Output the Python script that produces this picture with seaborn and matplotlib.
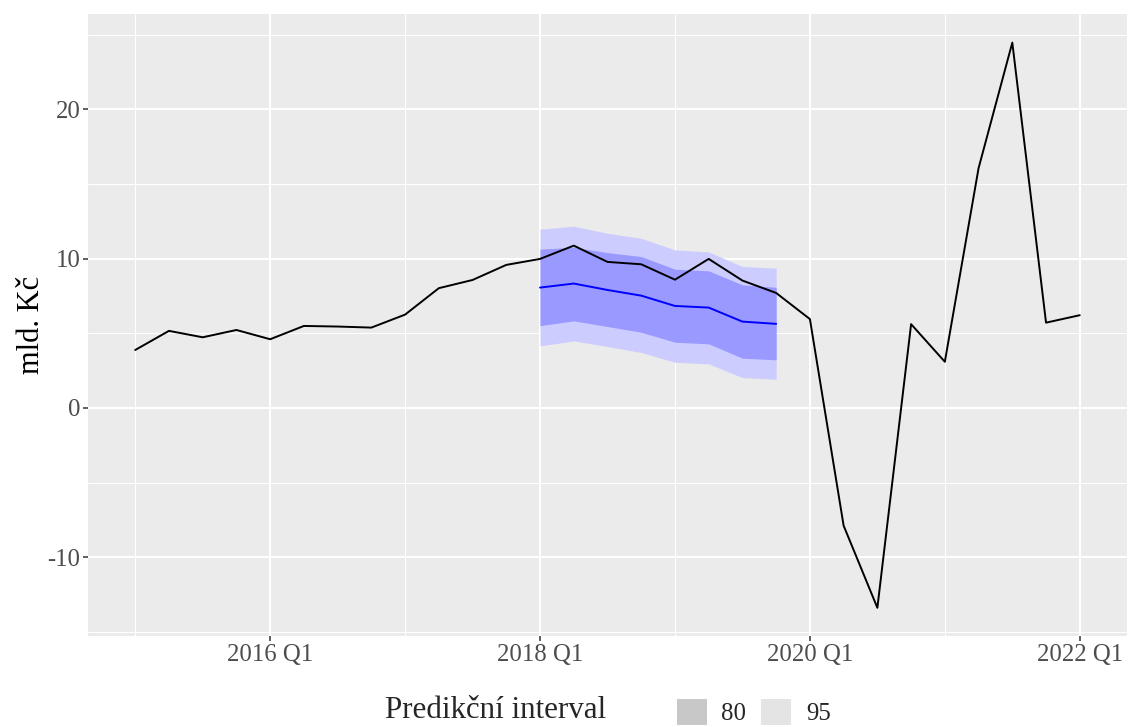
import numpy as np
import pandas as pd
import matplotlib
matplotlib.use("Agg")
import matplotlib.pyplot as plt
import seaborn as sns
from matplotlib.patches import Patch

# ---- data ----
actual_start = "2015Q1"
actual_end = "2022Q1"
actual_values = [3.88, 5.16, 4.73, 5.22, 4.60, 5.49, 5.45, 5.38,
                 6.25, 8.02, 8.57, 9.58, 9.98, 10.87, 9.78, 9.62,
                 8.59, 9.98, 8.53, 7.70, 5.95, -7.89, -13.39, 5.61,
                 3.09, 16.06, 24.47, 5.71, 6.21]

fc_start = "2018Q1"
fc_end = "2019Q4"
fc_mean = [8.06, 8.33, 7.90, 7.52, 6.83, 6.72, 5.78, 5.63]
fc_lo80 = [5.51, 5.83, 5.45, 5.07, 4.40, 4.29, 3.33, 3.22]
fc_hi80 = [10.63, 10.76, 10.40, 10.14, 9.29, 9.18, 8.24, 8.08]
fc_lo95 = [4.15, 4.49, 4.11, 3.71, 3.06, 2.95, 2.03, 1.92]
fc_hi95 = [11.97, 12.17, 11.70, 11.36, 10.58, 10.45, 9.47, 9.36]

x_major_years = [2016, 2018, 2020, 2022]
x_minor_years = [2015, 2017, 2019, 2021]
y_major = [-10, 0, 10, 20]
y_minor = [-15, -5, 5, 15, 25]

legend_title = "Predikční interval"
legend_levels = ["80", "95"]
y_label = "mld. Kč"


def decimal_years(start, end):
    p = pd.period_range(start, end, freq="Q")
    return np.array(p.year + (p.quarter - 1) / 4.0, dtype=float)


x_act = decimal_years(actual_start, actual_end)
x_fc = decimal_years(fc_start, fc_end)

# ---- style ----
sns.set_theme(style="darkgrid")
plt.rcParams["font.family"] = ["Liberation Serif", "DejaVu Serif"]

W, H = 1128, 727
fig = plt.figure(figsize=(W / 100, H / 100), dpi=100)
ax = fig.add_axes([88 / W, 1 - 636 / H, (1127 - 88) / W, (636 - 14.4) / H])
ax.set_facecolor("#ebebeb")
for s in ax.spines.values():
    s.set_visible(False)

# bands
ax.fill_between(x_fc, fc_lo95, fc_hi95, color="#ccccff", lw=0, zorder=2)
ax.fill_between(x_fc, fc_lo80, fc_hi80, color="#9999ff", lw=0, zorder=3)

sns.lineplot(x=x_act, y=actual_values, ax=ax, color="black", lw=1.4, zorder=5)
sns.lineplot(x=x_fc, y=fc_mean, ax=ax, color="#0000ff", lw=1.4, zorder=4)

ax.set_xlim(2014.65, 2022.35)
ax.set_ylim(-15.28, 26.36)

ax.set_xticks(x_major_years)
ax.set_xticklabels([f"{y} Q1" for y in x_major_years])
ax.set_xticks(x_minor_years, minor=True)
ax.set_yticks(y_major)
ax.set_yticklabels([str(v) for v in y_major])
ax.set_yticks(y_minor, minor=True)

ax.grid(which="major", color="white", lw=1.5)
ax.grid(which="minor", color="white", lw=0.75)
ax.set_axisbelow(True)

ax.tick_params(axis="both", which="major", length=3.5, width=1.1,
               color="#333333", labelcolor="#4d4d4d", labelsize=17.8, pad=2)
ax.tick_params(axis="both", which="minor", length=0)
ax.tick_params(axis="x", which="major", bottom=True)
ax.tick_params(axis="y", which="major", left=True)

ax.set_xlabel("")
ax.set_ylabel(y_label, fontsize=22, color="black")
ax.yaxis.set_label_coords(-0.040, 0.5)

# legend
fig.text(385 / W, 1 - 711 / H, legend_title, fontsize=22.3, ha="left", va="center")
handles = [Patch(facecolor="#c8c8c8", edgecolor="none"),
           Patch(facecolor="#e4e4e4", edgecolor="none")]
fig.legend(handles, legend_levels, ncol=2, loc="center left",
           bbox_to_anchor=(677 / W, 1 - 712 / H), frameon=False,
           fontsize=17.8, handlelength=1.2, handleheight=1.25,
           handletextpad=0.6, columnspacing=0.6, borderpad=0, borderaxespad=0)

fig.savefig("out.png", dpi=100)
